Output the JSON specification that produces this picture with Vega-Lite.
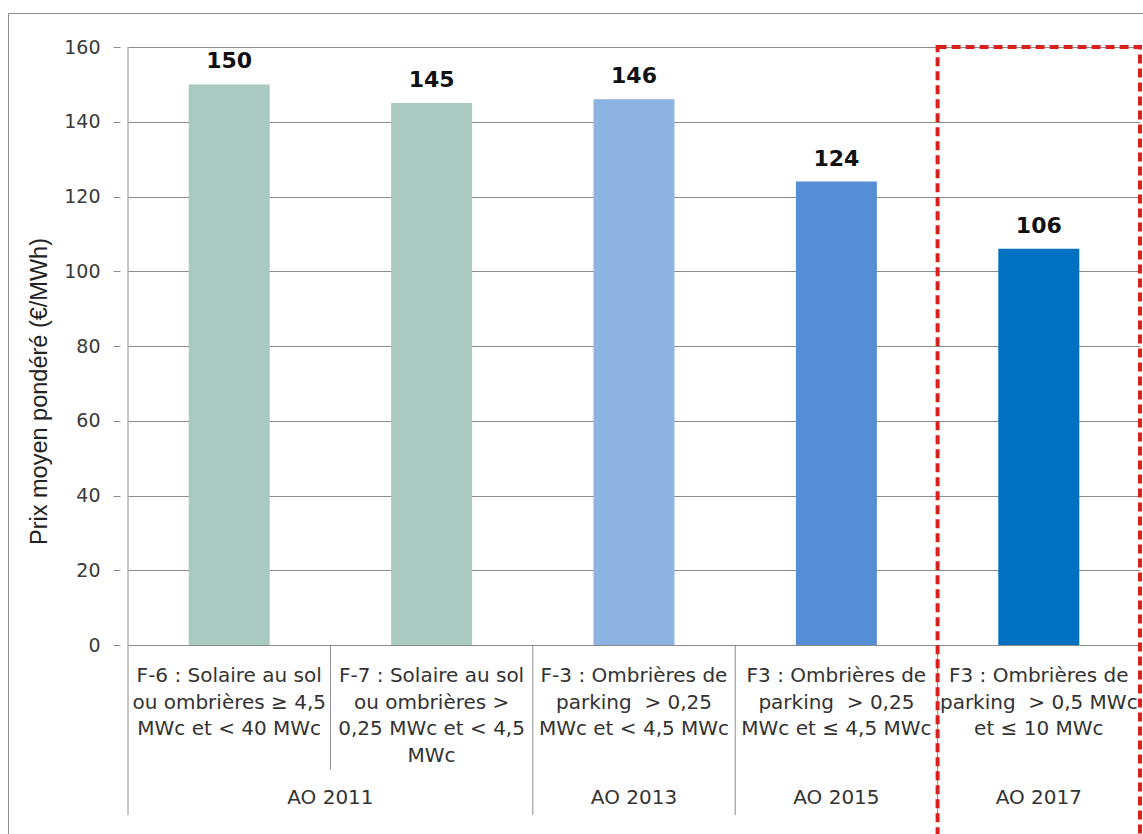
{
  "$schema": "https://vega.github.io/schema/vega-lite/v6.json",
  "autosize": "none",
  "width": 1135,
  "height": 821,
  "padding": {"left": 8, "top": 13, "right": 0, "bottom": 0},
  "background": "white",
  "config": {"view": {"stroke": "#8c8c8c", "strokeWidth": 1}, "font": "DejaVu Sans"},
  "datasets": {
    "bars": [
      {"cat": "F-6", "ao": "AO 2011", "prix": 150, "label": "F-6 : Solaire au sol\nou ombrières ≥ 4,5\nMWc et < 40 MWc"},
      {"cat": "F-7", "ao": "AO 2011", "prix": 145, "label": "F-7 : Solaire au sol\nou ombrières >\n0,25 MWc et < 4,5\nMWc"},
      {"cat": "F-3", "ao": "AO 2013", "prix": 146, "label": "F-3 : Ombrières de\nparking \u00a0> 0,25\nMWc et < 4,5 MWc"},
      {"cat": "F3 2015", "ao": "AO 2015", "prix": 124, "label": "F3 : Ombrières de\nparking \u00a0> 0,25\nMWc et ≤ 4,5 MWc"},
      {"cat": "F3 2017", "ao": "AO 2017", "prix": 106, "label": "F3 : Ombrières de\nparking \u00a0> 0,5 MWc\net ≤ 10 MWc"}
    ]
  },
  "data": {"name": "bars"},
  "encoding": {
    "x": {
      "field": "cat",
      "type": "nominal",
      "scale": {"domain": ["F-6", "F-7", "F-3", "F3 2015", "F3 2017"], "paddingInner": 0, "paddingOuter": 0, "range": [120, 1132]},
      "axis": null
    }
  },
  "layer": [
    {
      "mark": {"type": "bar", "width": {"band": 0.4}},
      "encoding": {
        "y": {
          "field": "prix",
          "type": "quantitative",
          "scale": {"domain": [-50, 160], "nice": false, "zero": false, "range": [818.9, 34]},
          "axis": {
            "values": [0, 20, 40, 60, 80, 100, 120, 140, 160],
            "offset": -112,
            "grid": true,
            "gridColor": "#8c8c8c",
            "gridOpacity": 1,
            "domain": false,
            "tickColor": "#8c8c8c",
            "tickSize": 7,
            "labelPadding": 13,
            "labelFontSize": 19,
            "labelColor": "#3a3a3a",
            "labelFont": "DejaVu Sans",
            "title": "Prix moyen pondéré (€/MWh)",
            "titleFont": "Liberation Sans",
            "titleFontSize": 23.5,
            "titleFontWeight": "normal",
            "titleColor": "#222222",
            "titleAngle": -90,
            "titleX": -81,
            "titleY": 378,
            "titleAlign": "center",
            "titleBaseline": "middle"
          }
        },
        "y2": {"datum": 0},
        "color": {
          "field": "ao",
          "type": "nominal",
          "scale": {"domain": ["AO 2011", "AO 2013", "AO 2015", "AO 2017"], "range": ["#a8cac1", "#8db3e2", "#558ed5", "#0070c0"]},
          "legend": null
        }
      }
    },
    {
      "mark": {"type": "text", "fontWeight": "bold", "fontSize": 22, "dy": -16, "baseline": "alphabetic", "color": "#111111"},
      "encoding": {
        "y": {"field": "prix", "type": "quantitative"},
        "text": {"field": "prix", "type": "quantitative"}
      }
    },
    {
      "mark": {"type": "text", "fontSize": 20, "lineBreak": "\n", "lineHeight": 26.7, "align": "center", "baseline": "alphabetic", "color": "#333333"},
      "encoding": {
        "y": {"datum": -9.9},
        "text": {"field": "label"}
      }
    },
    {
      "transform": [{"filter": "datum.cat == 'F-6'"}],
      "mark": {"type": "rule", "color": "#8c8c8c", "strokeWidth": 1},
      "encoding": {
        "x": {"field": "cat", "type": "nominal", "bandPosition": 0},
        "y": {"datum": 160},
        "y2": {"datum": -45.5}
      }
    },
    {
      "transform": [{"filter": "datum.cat == 'F-3' || datum.cat == 'F3 2015' || datum.cat == 'F3 2017'"}],
      "mark": {"type": "rule", "color": "#8c8c8c", "strokeWidth": 1},
      "encoding": {
        "x": {"field": "cat", "type": "nominal", "bandPosition": 0},
        "y": {"datum": 0},
        "y2": {"datum": -45.5}
      }
    },
    {
      "transform": [{"filter": "datum.cat == 'F-7'"}],
      "mark": {"type": "rule", "color": "#8c8c8c", "strokeWidth": 1},
      "encoding": {
        "x": {"field": "cat", "type": "nominal", "bandPosition": 0},
        "y": {"datum": 0},
        "y2": {"datum": -33.4}
      }
    },
    {
      "transform": [{"filter": "datum.cat == 'F-6'"}],
      "mark": {"type": "text", "fontSize": 20, "align": "center", "baseline": "middle", "color": "#333333"},
      "encoding": {
        "x": {"field": "cat", "type": "nominal", "bandPosition": 1},
        "y": {"datum": -40.9},
        "text": {"field": "ao"}
      }
    },
    {
      "transform": [{"filter": "datum.ao != 'AO 2011'"}],
      "mark": {"type": "text", "fontSize": 20, "align": "center", "baseline": "middle", "color": "#333333"},
      "encoding": {
        "y": {"datum": -40.9},
        "text": {"field": "ao"}
      }
    },
    {
      "transform": [{"filter": "datum.cat == 'F3 2017'"}],
      "mark": {"type": "rect", "fill": null, "fillOpacity": 0, "stroke": "#d9201c", "strokeWidth": 4, "strokeDash": [9, 5]},
      "encoding": {
        "y": {"datum": 160},
        "y2": {"datum": -60}
      }
    }
  ]
}
